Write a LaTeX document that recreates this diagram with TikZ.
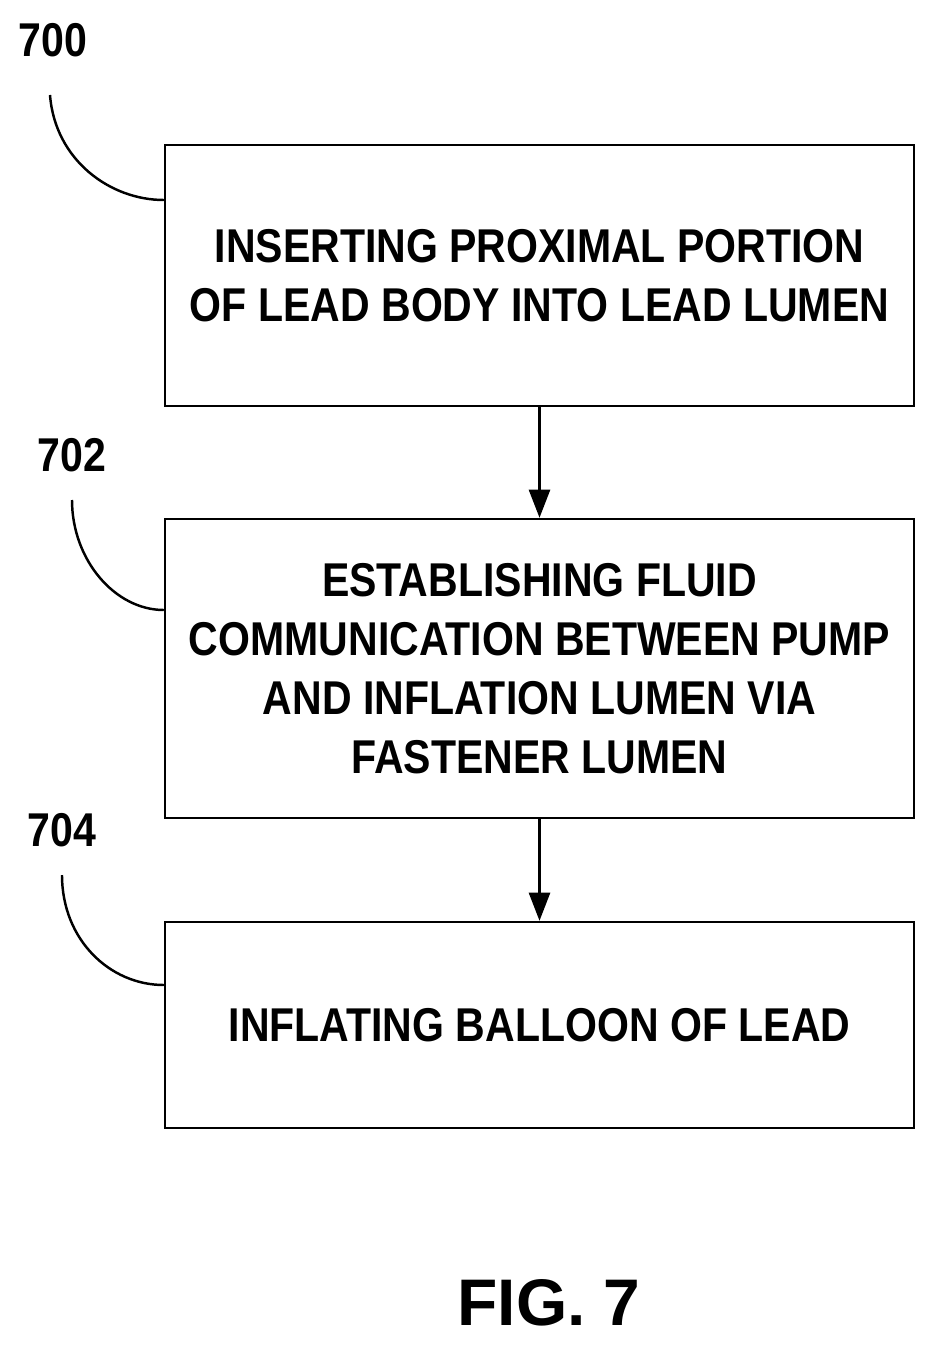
\documentclass[tikz,border=0pt]{standalone}
\usepackage{fontspec}
\setmainfont{Liberation Sans}
\newfontfamily\narrowf[FakeStretch=0.865]{Liberation Sans}
\usetikzlibrary{arrows.meta}
\begin{document}
\begin{tikzpicture}[x=0.02cm,y=-0.02cm,
  box/.style={draw,line width=1.4pt,minimum width=749*0.02cm,align=center,font=\narrowf\bfseries\fontsize{27}{33.5}\selectfont,inner sep=0pt},
  lab/.style={font=\narrowf\bfseries\fontsize{27}{30}\selectfont},
  arr/.style={line width=1.4pt,-{Triangle[length=16pt,width=12pt]}},
  lead/.style={line width=1.4pt}]
\useasboundingbox (0,0) rectangle (937,1348);
\node[box,minimum height=261*0.02cm] (b1) at (539.5,275.5) {INSERTING PROXIMAL PORTION\\OF LEAD BODY INTO LEAD LUMEN};
\node[box,minimum height=299*0.02cm] (b2) at (539.5,668.5) {ESTABLISHING FLUID\\COMMUNICATION BETWEEN PUMP\\AND INFLATION LUMEN VIA\\FASTENER LUMEN};
\node[box,minimum height=206*0.02cm] (b3) at (539.5,1025) {INFLATING BALLOON OF LEAD};
\draw[arr] (b1) -- (b2);
\draw[arr] (b2) -- (b3);
\node[lab] (l0) at (53,40) {700};
\node[lab] (l2) at (72,455) {702};
\node[lab] (l4) at (62,830) {704};
\draw[lead] (50,95) .. controls (55,160) and (110,200) .. (b1.west |- 0,200);
\draw[lead] (72,500) .. controls (72,560) and (115,610) .. (b2.west |- 0,610);
\draw[lead] (62,875) .. controls (62,940) and (110,985) .. (b3.west |- 0,985);
\node[font=\bfseries\fontsize{37.5}{42}\selectfont] (fig) at (549,1303) {FIG. 7};
\end{tikzpicture}
\end{document}
